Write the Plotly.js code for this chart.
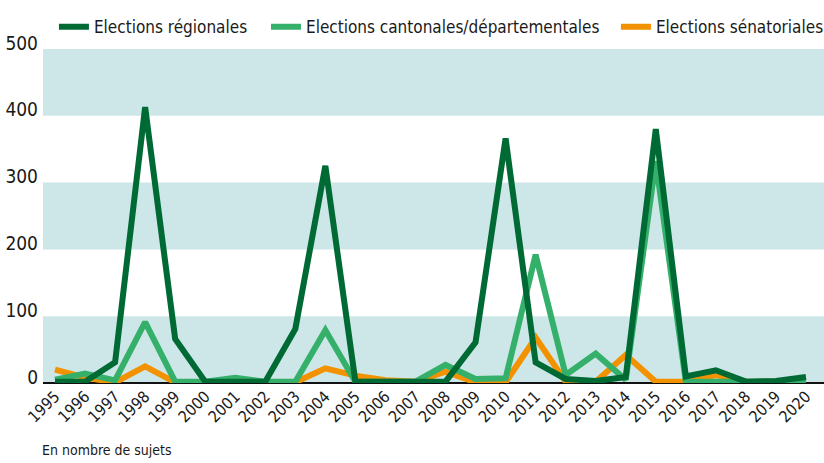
<!DOCTYPE html>
<html>
<head>
<meta charset="utf-8">
<script src="https://cdn.plot.ly/plotly-3.0.1.min.js"></script>
<style>
html,body{margin:0;padding:0;background:#fff;}
#chart{width:824px;height:463px;}
</style>
</head>
<body>
<div id="chart"></div>
<script>
const years = [1995,1996,1997,1998,1999,2000,2001,2002,2003,2004,2005,2006,2007,2008,2009,2010,2011,2012,2013,2014,2015,2016,2017,2018,2019,2020];
const yearLabels = years.map(String);
const regionales = [2,2,31,413,66,2,2,2,81,325,2,2,2,2,61,366,31,6,3,9,380,10,19,2,3,9];
const cantonales = [5,14,4,91,2,2,8,2,2,79,2,2,2,27,6,7,192,12,44,5,332,2,2,2,2,2];
const senatoriales = [20,8,1,25,1,1,4,1,1,22,11,4,2,17,1,1,68,2,2,42,2,2,12,2,2,2];
const names = ["Elections régionales","Elections cantonales/départementales","Elections sénatoriales"];
const colors = ["#006a35","#35b06a","#f39200"];
const yTicks = [0,100,200,300,400,500];
const bands = [[0,100],[200,300],[400,500]];

const FONT = '"Liberation Sans Narrow", "DejaVu Sans Condensed", "Liberation Sans", sans-serif';

const seriesData = [regionales, cantonales, senatoriales];
const legendIds = ['legend','legend2','legend3'];
const order = [2,1,0];
const traces = order.map(i => ({
  x: years,
  y: seriesData[i],
  type: 'scatter',
  mode: 'lines',
  name: names[i],
  legend: legendIds[i],
  line: {color: colors[i], width: 6, shape: 'linear'},
  hoverinfo: 'x+y'
}));

const shapes = bands.map(b => ({
  type: 'rect', xref: 'paper', yref: 'y', x0: 0, x1: 1, y0: b[0], y1: b[1],
  fillcolor: '#cde6e8', line: {width: 0}, layer: 'below'
}));

function leg(x) {
  return {
    orientation: 'h', x: x, xanchor: 'left', y: 1.065, yanchor: 'middle',
    font: {family: FONT, size: 17, color: '#1a1a1a'},
    bgcolor: 'rgba(0,0,0,0)'
  };
}

const layout = {
  width: 824, height: 463,
  margin: {l: 43, r: 0, t: 49, b: 80, autoexpand: false},
  paper_bgcolor: '#ffffff',
  plot_bgcolor: 'rgba(0,0,0,0)',
  font: {family: FONT, color: '#1a1a1a', size: 16},
  showlegend: true,
  legend: leg(0.014),
  legend2: leg(0.2855),
  legend3: leg(0.7336),
  xaxis: {
    type: 'linear',
    range: [1994.6, 2020.6],
    tickmode: 'array', tickvals: years, ticktext: yearLabels,
    tickangle: -45,
    tickfont: {family: FONT, size: 16, color: '#1a1a1a'},
    showgrid: false, zeroline: false, showline: false, ticks: '',
    fixedrange: true
  },
  yaxis: {
    range: [0, 500],
    tickmode: 'array', tickvals: yTicks, ticktext: yTicks.map(String),
    tickfont: {family: FONT, size: 19, color: '#1a1a1a'},
    ticklabelshift: -6,
    ticklabelstandoff: 4,
    showgrid: false, zeroline: true, zerolinecolor: '#111111', zerolinewidth: 2,
    showline: false, ticks: '', fixedrange: true
  },
  shapes: shapes,
  annotations: [{
    text: 'En nombre de sujets', xref: 'paper', yref: 'paper',
    x: -0.004, y: -0.2, xanchor: 'left', yanchor: 'middle', showarrow: false,
    font: {family: FONT, size: 14, color: '#1a1a1a'}
  }]
};

Plotly.newPlot('chart', traces, layout, {staticPlot: true, displayModeBar: false});
</script>
</body>
</html>
